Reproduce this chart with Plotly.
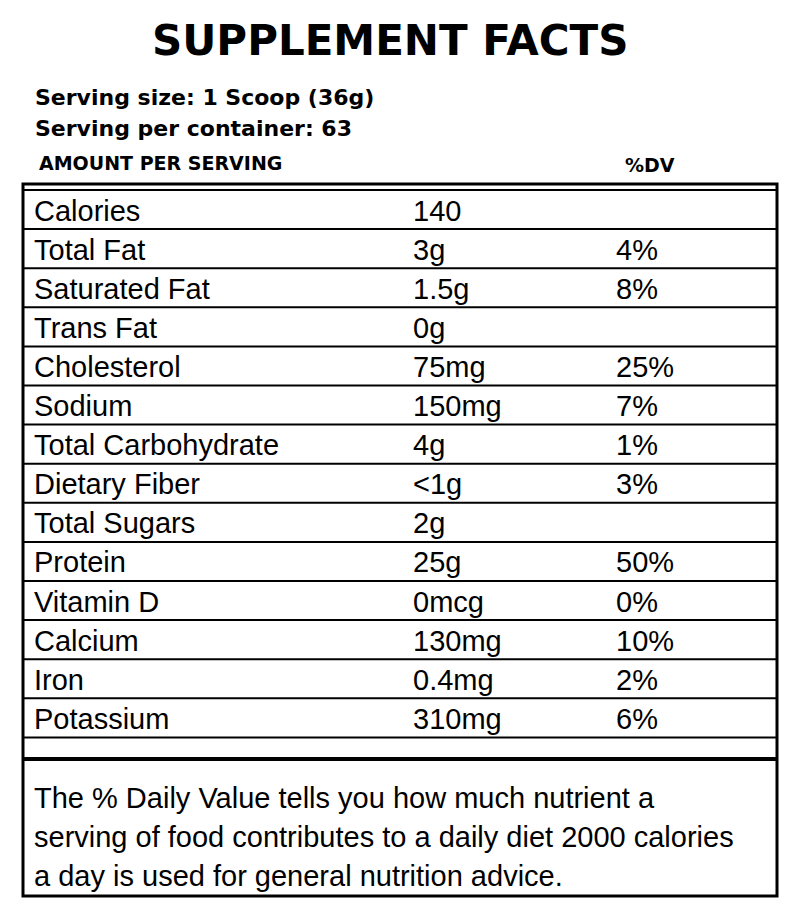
import plotly.graph_objects as go

nutrients = ["Calories", "Total Fat", "Saturated Fat", "Trans Fat", "Cholesterol", "Sodium",
             "Total Carbohydrate", "Dietary Fiber", "Total Sugars", "Protein", "Vitamin D",
             "Calcium", "Iron", "Potassium"]
amounts = ["140", "3g", "1.5g", "0g", "75mg", "150mg", "4g", "<1g", "2g", "25g",
           "0mcg", "130mg", "0.4mg", "310mg"]
daily_values = ["", "4%", "8%", "", "25%", "7%", "1%", "3%", "", "50%", "0%", "10%", "2%", "6%"]

title = "SUPPLEMENT FACTS"
serving_lines = ["Serving size: 1 Scoop (36g)", "Serving per container: 63"]
footer = ["The % Daily Value tells you how much nutrient a",
          "serving of food contributes to a daily diet 2000 calories",
          "a day is used for general nutrition advice."]

fig = go.Figure()
font = "Liberation Sans, Arial, sans-serif"
ann = []
shapes = []

ann.append(dict(x=390, y=40, text="<b>" + title + "</b>", showarrow=False,
                font=dict(family="DejaVu Sans, sans-serif", size=42, color="black")))
for i, s in enumerate(serving_lines):
    ann.append(dict(x=33, y=97 + i * 31, text="<b>" + s + "</b>", xanchor="left", showarrow=False,
                    font=dict(family="DejaVu Sans, sans-serif", size=22, color="black")))
ann.append(dict(x=37, y=163, text="<b>AMOUNT PER SERVING</b>", xanchor="left", showarrow=False,
                font=dict(family="DejaVu Sans, sans-serif", size=19, color="black")))
ann.append(dict(x=623, y=165, text="<b>%DV</b>", xanchor="left", showarrow=False,
                font=dict(family="DejaVu Sans, sans-serif", size=19, color="black")))

row_h = 39.1
top = 190
for i, (n, a, d) in enumerate(zip(nutrients, amounts, daily_values)):
    yc = top + row_h * (i + 0.5) + 1
    ann.append(dict(x=32, y=yc, text=n, xanchor="left", showarrow=False,
                    font=dict(family=font, size=29, color="black")))
    ann.append(dict(x=411, y=yc, text=a, xanchor="left", showarrow=False,
                    font=dict(family=font, size=29, color="black")))
    ann.append(dict(x=614, y=yc, text=d, xanchor="left", showarrow=False,
                    font=dict(family=font, size=29, color="black")))
    shapes.append(dict(type="line", x0=24, x1=778, y0=top + row_h * (i + 1), y1=top + row_h * (i + 1),
                       line=dict(color="black", width=2)))

for i, t in enumerate(footer):
    ann.append(dict(x=32, y=798 + i * 39, text=t, xanchor="left", showarrow=False,
                    font=dict(family=font, size=29, color="black")))

shapes.append(dict(type="rect", x0=23, x1=777, y0=184, y1=896, line=dict(color="black", width=3)))
shapes.append(dict(type="line", x0=23, x1=777, y0=759, y1=759, line=dict(color="black", width=4)))
shapes.append(dict(type="line", x0=23, x1=777, y0=190, y1=190, line=dict(color="black", width=2)))

# page body has an 8px margin, so shift the coordinate window to compensate
fig.update_layout(width=800, height=913, margin=dict(l=0, r=0, t=0, b=0),
                  plot_bgcolor="white", paper_bgcolor="white",
                  xaxis=dict(range=[8, 808], visible=False, fixedrange=True),
                  yaxis=dict(range=[921, 8], visible=False, fixedrange=True),
                  annotations=ann, shapes=shapes, showlegend=False)
fig.write_html("out.html")
